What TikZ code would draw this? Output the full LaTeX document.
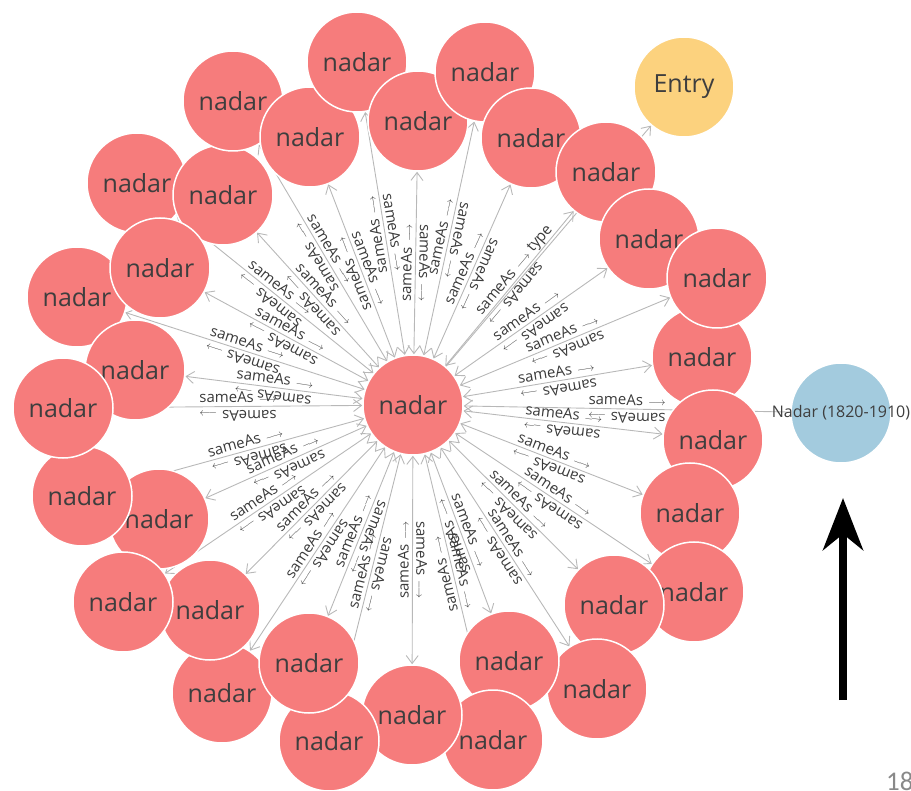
\documentclass[tikz,border=0pt]{standalone}
\usepackage{fontspec}
\setmainfont{Open Sans}
\newfontfamily\slidefont{Carlito}
\usetikzlibrary{arrows.meta}
\definecolor{nred}{RGB}{246,124,124}
\definecolor{nyel}{RGB}{252,210,126}
\definecolor{nblue}{RGB}{163,203,222}
\definecolor{ntext}{RGB}{62,62,62}
\definecolor{egray}{RGB}{184,184,184}
\definecolor{ltext}{RGB}{58,58,58}
\definecolor{pgnum}{RGB}{137,137,137}
\pgfdeclarelayer{background}
\pgfsetlayers{background,main}
\newcommand\sameAsLabel{sameAs\hspace{5pt}{\fontsize{11}{11}\selectfont$\longrightarrow$}}
\tikzset{bartip/.tip={Straight Barb[length=8pt,width=12pt]}}
\begin{document}
\begin{tikzpicture}[x=1pt,y=-1pt,
  gnode/.style={circle, draw=white, line width=1.5pt, minimum size=100pt, inner sep=0pt,
    text=ntext, font=\fontsize{25}{25}\selectfont},
  rnode/.style={gnode, fill=nred},
  edgeline/.style={draw=egray, line width=0.9pt},
  elab/.style={midway, sloped, allow upside down, anchor=south, inner sep=3.5pt,
    text=ltext, font=\fontsize{15}{15}\selectfont},
]
\useasboundingbox (0,0) rectangle (911,791);

% center node
\node[rnode] (c) at (413,405) {nadar};

% outer nodes in stacking order
\foreach \i/\x/\y in {7/137/183, 11/77/297, 14/135/370, 8/223/195, 3/233/101,
  4/310/137, 1/357/62, 5/418/121, 2/485/72, 6/531/138, 9/606/172, 10/649/239,
  15/702/357, 13/717/278, 17/713/440, 20/690/513, 21/694/592, 24/614/605,
  27/597/689, 12/160/268, 19/159/519, 18/82/496, 16/63/408, 28/222/693,
  23/210/610, 22/123/602, 26/509/661, 31/493/740, 29/412/715, 30/329/741,
  25/309/663}
  \node[rnode] (n\i) at (\x,\y) {nadar};

\node[gnode, fill=nyel] (entry) at (684,87) {Entry};
\node[gnode, fill=nblue] (blue) at (841,413) {};
\node[text=ntext, font=\fontsize{16}{16}\selectfont, inner sep=0pt] (bluetext) at (841,413) {Nadar (1820-1910)};

\begin{pgfonlayer}{background}
  \foreach \i in {1,...,31}
    \draw[edgeline, bartip-bartip] (c) -- (n\i);
  \draw[edgeline, bartip-] (c) -- (blue);
  \draw[edgeline, -bartip] (c) -- (entry);
  \foreach \i in {1,...,31} {
    \path (c) -- (n\i) node[elab] {\sameAsLabel};
    \path (n\i) -- (c) node[elab] {\sameAsLabel};
  }
  \path (c) -- (blue) node[elab] {\sameAsLabel};
  \path (blue) -- (c) node[elab] {\sameAsLabel};
  \path (c) -- (entry) node[elab] {type};
\end{pgfonlayer}

% black arrow and page number
\coordinate (abase) at (843,700);
\coordinate (atip) at (843,498);
\draw[line width=8pt, -{Stealth[length=52pt,width=40pt,inset=16pt]}] (abase) -- (atip);
\node[anchor=base west, inner sep=0pt, text=pgnum, font=\slidefont\fontsize{27}{27}\selectfont] (pnum) at (886,790) {18};
\end{tikzpicture}
\end{document}
